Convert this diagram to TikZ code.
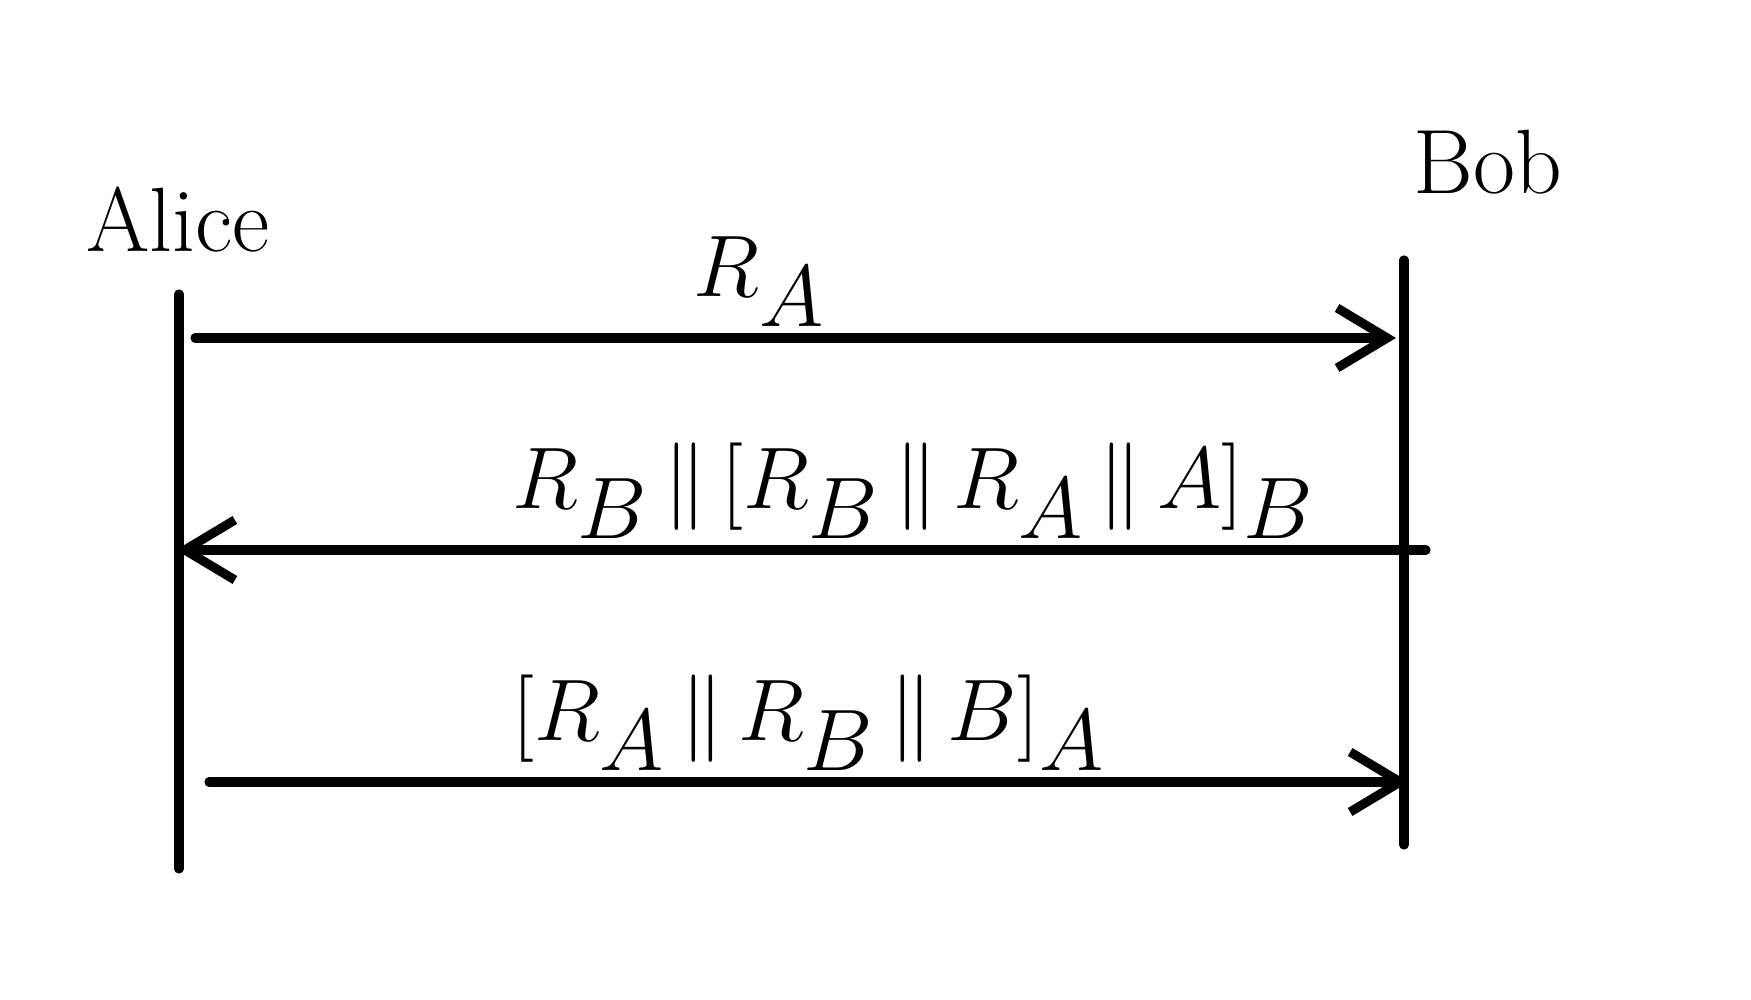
\documentclass[tikz,border=0pt]{standalone}
\usetikzlibrary{arrows.meta}
\begin{document}
\begin{tikzpicture}[line width=2.6pt, line cap=round]
\tikzstyle{actor}=[font=\fontsize{26}{30}\selectfont]
\tikzstyle{msg}=[font=\fontsize{34}{40}\selectfont, above=2pt, inner sep=0pt]
\tikzstyle{send}=[-{Straight Barb[length=5mm,width=6mm,line width=2.6pt]}]
\useasboundingbox (0,0) rectangle (17.51,10);
% participants
\node[actor] (alice) at (1.78,7.8) {Alice};
\node[actor] (bob) at (14.88,8.38) {Bob};
\coordinate (a1) at (1.79,7.06);
\coordinate (a2) at (1.79,1.31);
\coordinate (b1) at (14.04,7.40);
\coordinate (b2) at (14.04,1.55);
\path (a1) [-] edge (a2)
      (b1) [-] edge (b2);
% messages
\coordinate (m1s) at (1.95,6.62);
\coordinate (m1e) at (13.96,6.62);
\coordinate (m2s) at (14.26,4.50);
\coordinate (m2e) at (1.76,4.50);
\coordinate (m3s) at (2.09,2.18);
\coordinate (m3e) at (14.09,2.18);
\path (m1s) [send] edge node[msg,pos=0.47] (l1) {$R_A$} (m1e)
      (m2s) [send] edge node[msg,pos=0.41] (l2) {$R_B \,\|\, [R_B \,\|\, R_A \,\|\, A]_B$} (m2e)
      (m3s) [send] edge node[msg,pos=0.50] (l3) {$[R_A \,\|\, R_B \,\|\, B]_A$} (m3e);
\end{tikzpicture}
\end{document}
